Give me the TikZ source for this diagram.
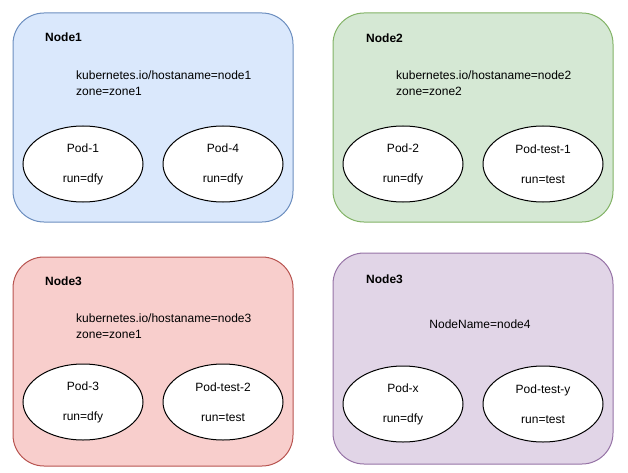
\documentclass[tikz,border=0pt]{standalone}
\usepackage{fontspec}
\setmainfont{Liberation Sans}
\usetikzlibrary{shapes.geometric}
\definecolor{bluefill}{HTML}{DAE8FC}
\definecolor{blueline}{HTML}{6C8EBF}
\definecolor{greenfill}{HTML}{D5E8D4}
\definecolor{greenline}{HTML}{82B366}
\definecolor{redfill}{HTML}{F8CECC}
\definecolor{redline}{HTML}{B85450}
\definecolor{purplefill}{HTML}{E1D5E7}
\definecolor{purpleline}{HTML}{9673A6}
\begin{document}
\begin{tikzpicture}[x=1pt,y=-1pt,
    host/.style={rectangle, rounded corners=31pt, line width=1pt,
      minimum width=280pt, minimum height=209pt, inner sep=0pt},
    pod/.style={ellipse, draw=black, fill=white, line width=1pt,
      minimum width=120pt, minimum height=76pt, inner sep=0pt,
      align=center, font=\fontsize{12}{30}\selectfont},
    title/.style={anchor=west, inner sep=0pt, font=\fontsize{12}{14}\selectfont\bfseries},
    labels/.style={anchor=west, inner sep=0pt, align=left, font=\fontsize{12}{16}\selectfont}]
      \useasboundingbox (0,0) rectangle (628,473);
      \draw
        (153,117.5) node[host, fill=bluefill, draw=blueline] (n1){}
        (473,117.5) node[host, fill=greenfill, draw=greenline] (n2){}
        (153,361.5) node[host, fill=redfill, draw=redline] (n3){}
        (473,358.5) node[host, fill=purplefill, draw=purpleline, minimum height=211pt] (n4){};
      \begin{scope}
        \node[title] (n1t) at (45,37) {Node1};
        \node[title] (n2t) at (366,38) {Node2};
        \node[title] (n3t) at (45,281) {Node3};
        \node[title] (n4t) at (366,279) {Node3};
        \node[labels] (n1l) at (76,83) {kubernetes.io/hostaname=node1\\zone=zone1};
        \node[labels] (n2l) at (396,83) {kubernetes.io/hostaname=node2\\zone=zone2};
        \node[labels] (n3l) at (76,326) {kubernetes.io/hostaname=node3\\zone=zone1};
        \node[labels, anchor=center] (n4l) at (480,324) {NodeName=node4};
      \end{scope}
      \begin{scope}
        \node[pod] (p1) at (83,164) {Pod-1\\run=dfy};
        \node[pod] (p4) at (223,164) {Pod-4\\run=dfy};
        \node[pod] (p2) at (403,164) {Pod-2\\run=dfy};
        \node[pod] (pt1) at (543,164) {Pod-test-1\\run=test};
        \node[pod] (p3) at (83,402) {Pod-3\\run=dfy};
        \node[pod] (pt2) at (223,402) {Pod-test-2\\run=test};
        \node[pod] (px) at (403,404) {Pod-x\\run=dfy};
        \node[pod] (pty) at (543,404) {Pod-test-y\\run=test};
      \end{scope}
    \end{tikzpicture}
\end{document}
